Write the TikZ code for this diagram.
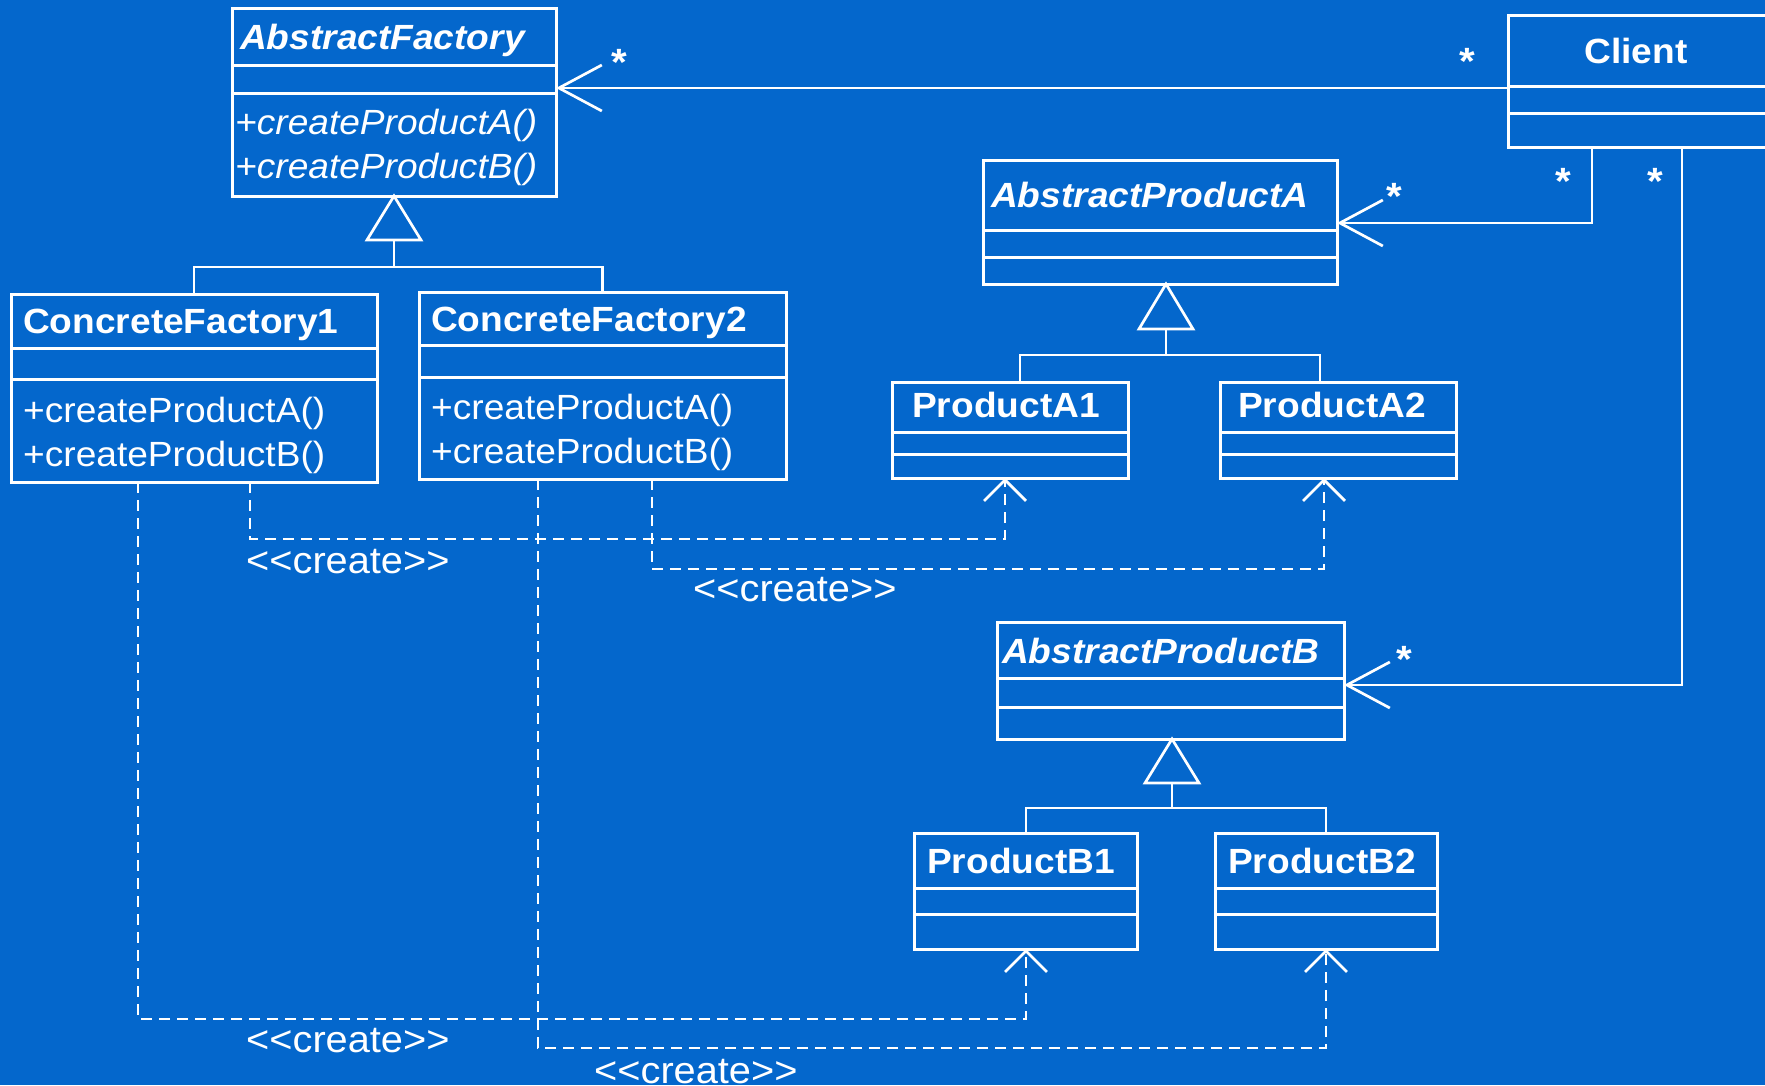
\documentclass[tikz,border=0pt]{standalone}
\usepackage{fontspec}
\setmainfont[FakeStretch=1.06]{Liberation Sans}
\usetikzlibrary{arrows.meta,calc}
\definecolor{bg}{RGB}{4,103,204}
\newcommand\ClassBox[7]{%
  \node[cls, minimum width={#4pt-#2pt}, minimum height={#5pt-#3pt}] (#1) at (#2,#3) {};
  \draw[divider] (#2,#6) -- (#4,#6);
  \draw[divider] (#2,#7) -- (#4,#7);}
\begin{document}
\begin{tikzpicture}[x=1pt,y=-1pt,
  cls/.style={draw=white,line width=3pt,rectangle,inner sep=0pt,outer sep=0pt,anchor=north west},
  divider/.style={white,line width=3pt},
  conn/.style={white,line width=2.7pt},
  assoc/.style={conn,-{Straight Barb[length=43pt,width=46pt]}},
  dep/.style={conn,dash pattern=on 11pt off 7pt,-{Straight Barb[length=21pt,width=42pt]}},
  cname/.style={text=white,inner sep=0pt,anchor=base west,font=\fontsize{35}{40}\selectfont\bfseries},
  aname/.style={cname,font=\fontsize{35}{40}\selectfont\bfseries\itshape},
  meth/.style={text=white,inner sep=0pt,anchor=base west,font=\fontsize{35}{40}\selectfont},
  ameth/.style={meth,font=\fontsize{35}{40}\selectfont\itshape},
  mult/.style={text=white,inner sep=0pt,anchor=base,font=\fontsize{38}{40}\selectfont\bfseries},
  stereo/.style={text=white,inner sep=0pt,anchor=base west,font=\fontsize{37.5}{40}\selectfont}]
\fill[bg] (0,0) rectangle (1765,1085);
\clip (0,0) rectangle (1765,1085);

% class boxes
\ClassBox{af}{232}{8}{556}{196}{65}{93}
\ClassBox{cf1}{11}{294}{377}{482}{348}{379}
\ClassBox{cf2}{419}{292}{786}{479}{345}{377}
\ClassBox{client}{1508}{15}{1800}{147}{86}{113}
\ClassBox{apa}{983}{160}{1337}{284}{230}{257}
\ClassBox{pa1}{892}{382}{1128}{478}{432}{454}
\ClassBox{pa2}{1220}{382}{1456}{478}{432}{454}
\ClassBox{apb}{997}{622}{1344}{739}{678}{707}
\ClassBox{pb1}{914}{833}{1137}{949}{888}{914}
\ClassBox{pb2}{1215}{833}{1437}{949}{888}{914}

% texts
\node[aname] (afn) at (240,49) {AbstractFactory};
\node[ameth] (afm1) at (235,134) {+createProductA()};
\node[ameth] (afm2) at (235,178) {+createProductB()};
\node[cname] (cf1n) at (23,333) {ConcreteFactory1};
\node[meth] (cf1m1) at (23,422) {+createProductA()};
\node[meth] (cf1m2) at (23,466) {+createProductB()};
\node[cname] (cf2n) at (431,331) {ConcreteFactory2};
\node[meth] (cf2m1) at (431,419) {+createProductA()};
\node[meth] (cf2m2) at (431,463) {+createProductB()};
\node[cname,anchor=base] (cln) at (1636,63) {Client};
\node[aname] (apan) at (991,207) {AbstractProductA};
\node[cname] (pa1n) at (912,417) {ProductA1};
\node[cname] (pa2n) at (1238,417) {ProductA2};
\node[aname] (apbn) at (1002,663) {AbstractProductB};
\node[cname] (pb1n) at (927,873) {ProductB1};
\node[cname] (pb2n) at (1228,873) {ProductB2};

% generalizations
\draw[conn] (af.south) -- ++(-27,44) -- ++(54,0) -- cycle;
\draw[conn] ($(af.south)+(0,44)$) -- ++(0,27) coordinate (afj);
\draw[conn] (cf1.north) |- (afj) -| (cf2.north);

\coordinate (apat) at ($(apa.south west)+(183,0)$);
\draw[conn] (apat) -- ++(-27,45) -- ++(54,0) -- cycle;
\draw[conn] ($(apat)+(0,45)$) -- ++(0,26) coordinate (apaj);
\draw[conn] ($(pa1.north west)+(128,0)$) |- (apaj) -| ($(pa2.north west)+(100,0)$);

\coordinate (apbt) at ($(apb.south west)+(175,0)$);
\draw[conn] (apbt) -- ++(-27,44) -- ++(54,0) -- cycle;
\draw[conn] ($(apbt)+(0,44)$) -- ++(0,25) coordinate (apbj);
\draw[conn] ($(pb1.north west)+(112,0)$) |- (apbj) -| ($(pb2.north west)+(111,0)$);

% associations
\draw[assoc] ($(client.north west)+(0,73)$) -- ($(af.north east)+(0,80)$);
\draw[assoc] ($(client.south west)+(84,0)$) |- ($(apa.north east)+(0,63)$);
\draw[assoc] ($(client.south west)+(174,0)$) |- ($(apb.north east)+(0,63)$);

% multiplicities
\node[mult] (m1) at (619,75) {*};
\node[mult] (m2) at (1467,74) {*};
\node[mult] (m3) at (1394,209) {*};
\node[mult] (m4) at (1563,194) {*};
\node[mult] (m5) at (1655,194) {*};
\node[mult] (m6) at (1404,672) {*};

% create dependencies
\draw[dep] ($(cf1.south west)+(239,0)$) -- ++(0,57) -| ($(pa1.south west)+(113,0)$);
\draw[dep] ($(cf2.south west)+(233,0)$) -- ++(0,90) -| ($(pa2.south west)+(104,0)$);
\draw[dep] ($(cf1.south west)+(127,0)$) -- ++(0,537) -| ($(pb1.south west)+(112,0)$);
\draw[dep] ($(cf2.south west)+(119,0)$) -- ++(0,569) -| ($(pb2.south west)+(111,0)$);

\node[stereo] (s1) at (246,573) {<\kern0pt<create>\kern0pt>};
\node[stereo] (s2) at (693,601) {<\kern0pt<create>\kern0pt>};
\node[stereo] (s3) at (246,1052) {<\kern0pt<create>\kern0pt>};
\node[stereo] (s4) at (594,1083) {<\kern0pt<create>\kern0pt>};
\end{tikzpicture}
\end{document}
